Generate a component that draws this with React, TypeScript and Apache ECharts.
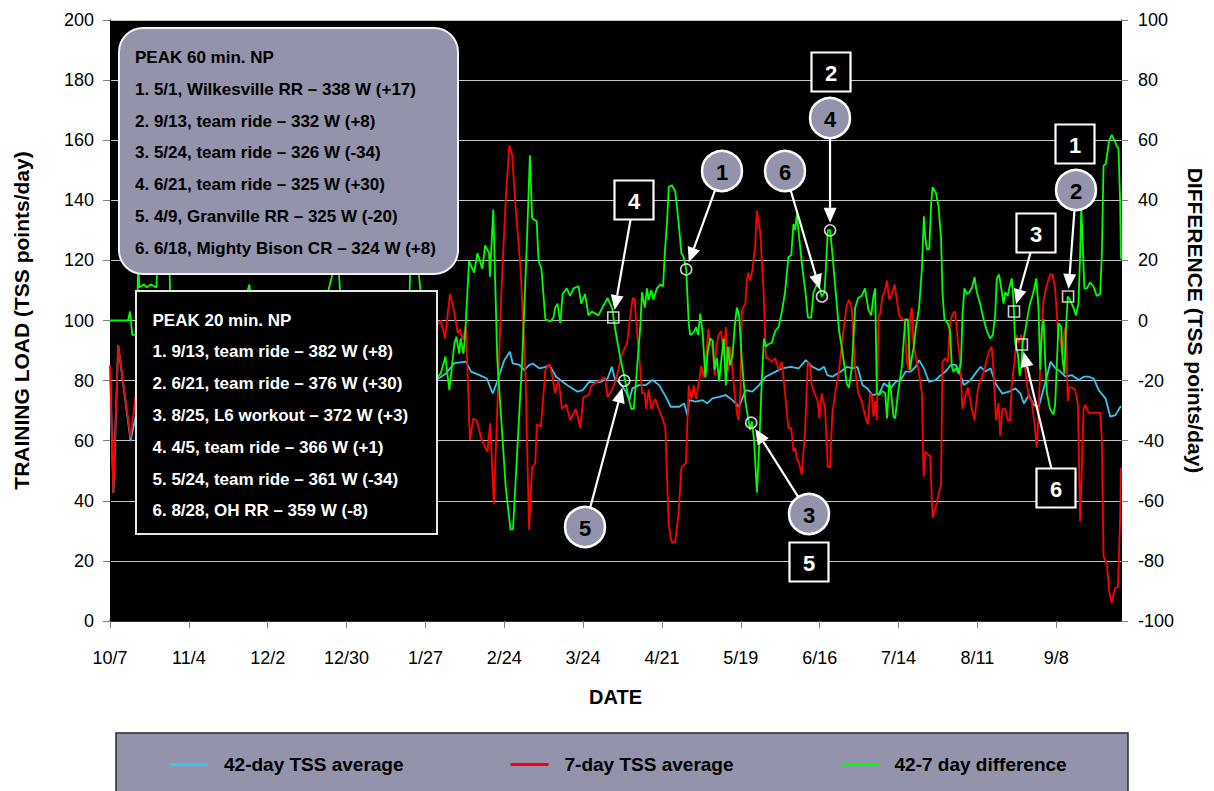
import React, { useEffect, useRef } from 'react';
import * as echarts from 'echarts';

// ---------- DATA ----------
const dateLabels = ['10/7', '11/4', '12/2', '12/30', '1/27', '2/24', '3/24', '4/21', '5/19', '6/16', '7/14', '8/11', '9/8'];
const seriesNames = ['42-day TSS average', '7-day TSS average', '42-7 day difference'];

// [day since 10/7, TSS points/day]
const ctl42: number[][] = [
  [0, 85], [1.2, 42.6], [2.9, 91.8], [7.3, 60], [9.1, 68], [15, 70], [22, 73], [30, 72], [40, 75], [50, 77], [60, 76], [70, 78], [80, 80], [90, 79], [100, 81], [108, 82],
  [115.8, 80.2], [119.3, 82.4], [122.3, 85.8], [126.4, 86.3], [128.2, 83], [131.2, 81.8], [133.8, 80.7], [135.9, 75.7], [137.7, 80.2], [140, 86.8], [142, 89.6], [143, 85.7], [145.4, 85.2], [147.1, 83.5], [148.9, 85.2], [150.1, 85.7], [152.4, 84.1], [154.8, 84.6], [156, 85.2], [158.4, 81.3], [160.7, 79.6], [163.1, 78], [166, 76.3], [167.8, 76.8], [170.2, 79.6], [172.5, 79.3], [174.3, 79.6], [176.7, 80.7], [178.2, 84.6], [179.4, 80.2], [180.8, 79.6], [183.2, 76.3], [184.4, 73.5], [185.5, 77.4], [187.9, 78.5], [190.3, 78.5], [192.6, 80.2], [195, 78.5], [197.4, 74.6], [199.1, 71.3], [202.1, 71.3], [203.9, 72.4], [205, 68.5], [205.6, 73.5], [208, 73], [210.4, 73.5], [212.1, 72.4], [213.9, 74.1], [216.3, 74.6], [218.6, 75.2], [221, 73.5], [223.4, 71.3], [225.7, 76.8], [228.1, 76.3], [230.5, 78.5], [232.8, 81.3], [236.4, 83], [238.7, 84.1], [241.7, 84.6], [244.6, 84.1],
  [247.1, 86.8], [249.4, 84.6], [251.8, 83.5], [253.6, 84.6], [254.7, 81.8], [256.5, 81.3], [258.3, 82.4], [259.5, 83], [261.8, 84.6], [263.6, 84.1], [265.4, 84.6], [267.2, 78.5], [268.9, 77.4], [270.7, 75.2], [273.1, 75.7], [274.8, 79.1], [277.2, 77.4], [279, 79.6], [280.8, 80.2], [282.5, 83], [284.3, 83], [286.1, 84.6], [287.3, 86.8], [289, 84.1], [290.8, 79.6], [293.2, 80.2], [295, 81.8], [296.7, 83], [298.5, 85.2], [300.3, 85.2], [301.4, 83.5], [303.2, 78.5], [305.6, 80.2], [307.3, 82.4], [309.1, 84.6], [310.9, 83], [312.7, 84.1], [314.4, 79.1], [316.8, 75.7], [319.2, 76.3], [321.5, 77.4], [323.3, 75.7], [324.5, 72.4], [326.3, 75.2], [328, 71.9], [329.8, 71.3], [332.2, 79.6], [334, 86.3], [335.7, 84.1], [337.5, 83], [339.3, 81.3], [341.6, 81.8], [344, 80.2], [345.8, 81.3], [347.5, 81.3], [349.3, 80.7], [351.1, 76.8], [353.5, 74.1], [355.2, 68], [357, 68.5], [358.8, 71.3], [359, 71.5],
];

const atl7: number[][] = [
  [0, 85], [1.2, 42.6], [2.9, 91.8], [7.3, 61], [9.1, 75], [10, 46], [10.4, 57], [12, 57], [14.5, 58], [16.5, 59], [17, 45], [19, 44], [21, 50], [21.5, 69], [30, 72], [40, 79], [47, 71], [49.5, 65], [50.5, 74], [60, 78], [70, 74], [77, 72], [80.8, 58], [82, 74], [92, 79], [100, 77], [106.3, 76], [106.8, 57], [109, 61], [110.5, 74], [113, 85],
  [116, 98.5], [117.5, 100], [119, 94], [120.7, 108.8], [122, 104], [123.5, 95.7], [124.3, 97], [125.2, 93.5], [126.4, 98], [127.8, 60.3], [129, 67.4], [130.2, 66.8], [132, 60.2], [134, 56.3], [135, 65.8], [136.3, 39], [137.5, 70], [139, 110], [140.5, 140], [141.8, 158.3], [142.8, 155], [144, 138], [145.8, 117], [147.5, 83.6], [148.8, 30.4], [149.9, 51.2], [151, 52.4], [151.6, 65.5], [153, 64.6], [154.6, 83.6], [156, 85.5], [157, 82], [158, 75.8], [159.3, 80.2], [160.5, 70.6], [162, 72], [163.4, 66.8], [165.4, 70.6], [167, 64.2], [168.1, 74.5], [170, 75.2], [171, 78.4], [173.4, 79.7], [175.8, 81], [176.7, 74.5],
  [178.3, 77], [179.5, 79.7], [181.8, 88.7], [183.6, 92.6], [184.8, 101.7], [185.6, 107.5], [186.3, 106.9], [187.1, 96.5], [188.3, 83.6], [188.9, 75.8], [189.9, 75.8], [190.4, 70.6], [191.3, 77.1], [192.2, 70.6], [193.6, 73.9], [194.8, 70.6], [196, 68], [197.2, 64.2], [198.4, 31.8], [199.5, 26], [200.7, 26.5], [201.9, 35.7], [202.9, 51.2], [204.5, 52.5], [205.5, 78.4], [206.4, 73.9], [207.3, 78.4], [208.1, 73.9], [209, 79], [210, 84.9], [210.8, 81], [211.7, 88.7], [212.5, 97.2], [213.1, 92.6], [214, 90.7], [214.7, 81.6], [215.3, 91.3], [216.1, 95.2], [217, 96.5], [217.9, 88.7], [218.7, 97.8], [219.4, 82.9], [220.2, 91.3], [220.8, 86.2], [221.7, 76.5], [222.6, 69.3], [223.2, 66.8], [223.8, 75.8], [224.4, 103.6], [225.6, 105.6], [226.1, 113.3], [226.7, 115.9], [227.3, 113.3], [228.2, 117.2], [229.1, 125], [229.7, 136.6], [230.9, 129.5], [232.1, 109.4], [232.9, 87.5], [233.6, 87.5], [235, 86.2], [236.2, 87.5], [237.4, 83.6], [238.6, 86.2], [239.7, 75.8], [240.9, 64.2], [241.9, 64.2], [242.7, 56.4], [243.3, 57.7], [243.9, 53.8], [244.7, 52.5], [245.6, 48.7], [246.8, 62.9], [247.8, 86.2], [248.6, 84.9], [249.2, 78.4], [250.4, 75.2], [251.3, 73.2], [251.9, 67.4], [252.7, 75.8], [253.9, 70.6], [254.9, 51.2], [255.7, 51.2], [256.5, 69.3], [257.7, 77.1], [258.9, 83.6], [260.4, 96.5], [261.6, 104.9], [262.4, 106.9], [263.4, 104.3], [264.6, 83.6], [265.7, 75.8], [266.9, 73.2], [268.2, 68], [269.1, 65.5], [269.9, 75.8], [270.5, 75.2], [271.1, 68], [271.7, 73.2], [272.3, 66.8], [272.9, 101.7], [273.5, 102.3], [274.3, 108.2], [275, 109.4], [275.9, 113.3], [276.7, 106.9], [277.6, 108.8], [278.6, 112], [279.4, 106.9], [280.2, 101.7], [281.2, 100.4], [282.1, 100.4], [283, 86.2], [283.6, 83.6], [284.1, 100.4], [284.7, 104.3], [285.3, 92.6], [286.2, 87.5], [287.1, 83.6], [288.3, 75.8], [288.9, 48], [289.5, 56.4], [290.7, 55.1], [291.2, 55.1], [292.1, 34.4], [293.3, 38.3], [294.2, 42.2], [295.1, 45.4], [295.6, 86.2], [296.6, 87.5], [297.5, 86.2], [298.3, 99.1], [299.2, 102.3], [300.1, 103], [301.1, 92.6], [301.9, 86.2], [302.7, 70.6], [303.7, 74.5], [304.6, 77.7], [305.4, 73.9], [306, 70.6], [307, 66.8], [307.8, 74.5], [308.6, 79], [309.6, 81], [310.5, 83.6], [311.4, 87.5], [312.3, 90], [313.1, 91.3], [313.7, 83.6], [314.6, 66.8], [315.5, 72.6], [316.1, 61.6], [316.9, 70.6], [317.9, 70.6], [318.8, 66.8], [319.6, 66.8], [320.2, 78.4], [321.2, 86.2], [322, 95.2], [322.6, 92.6], [323.6, 95.2], [324.4, 86.2], [325, 83.6], [326.2, 74.5], [327.3, 73.2], [328.3, 65.5], [329.1, 57.7], [329.7, 68], [330.7, 94], [331.5, 106.9], [332.7, 112], [333.8, 115.3], [334.7, 115.3], [335.6, 110.7], [336.6, 96.5], [337.4, 93.9], [338.2, 88.7], [338.9, 96.5], [339.4, 97.8], [340.1, 73.2], [340.6, 77.7], [341.5, 77.7], [342.7, 77.1], [343.7, 71.9], [344.5, 33.1], [345.1, 51.2], [345.7, 70.6], [346.3, 71.9], [347.5, 69.3], [351.6, 69.3], [352.2, 60.3], [352.8, 21.5], [354, 18.9], [354.8, 9.8], [355.7, 6], [356.9, 11.1], [357.9, 11.1], [358.7, 34.4], [359, 51],
];

// [day since 10/7, difference in TSS points/day] (right axis)
const diff42to7: number[][] = [
  [0, 0], [6.4, 0], [7.1, 3], [7.9, -4.8], [9.2, -4.8], [9.6, -7], [10, 24], [10.4, 11], [12, 12], [13, 11], [14.5, 12], [16.5, 11], [17, 26], [19, 28], [21, 22], [21.5, 4], [30, 0], [40, -4], [47, 4], [49.5, 12], [50.5, 3], [60, -2], [70, 4], [77, 8], [80.8, 22], [82, 6], [92, 0], [100, 4], [106.3, 6], [106.8, 25], [109, 21], [110.5, 8], [113, 2],
  [115.8, -19.3], [117.5, -17.5], [119.1, -12], [120.5, -23.2], [122.3, -7.6], [123, -5.4], [124, -11], [124.5, -6], [125.5, -11], [126.1, -4.8], [127.5, 19.8], [129.3, 15.9], [130.5, 22.4], [132.2, 17.2], [133.2, 25], [134.6, 22.4], [134.9, 14.6], [136.1, 36.9], [137.5, -12.5], [140.5, -55.2], [142.2, -69.5], [143.1, -69.5], [146.4, -12.5], [148.1, 27.6], [149.1, 55], [149.9, 34], [151.5, 33], [152.2, 19.8], [153.2, 17.2], [154.6, 0.4], [156.4, -0.3], [157.5, 1], [158.1, 4.3], [158.9, 5.6], [159.9, -0.9], [160.7, 8.8], [162.2, 10.7], [163.4, 8.2], [164.6, 10.7], [166.4, 11.4], [167.3, 5.6], [168.7, 8.8], [169.9, 1.7], [171.1, 3], [173.4, 1.7], [175.2, 4.9], [176.7, 7.5], [178.3, 4], [179.5, -3.5], [181.2, -12.5], [183, -20.3], [184.2, -26.1], [185.1, -29.4], [186, -29.4], [187.1, -16.4], [188.3, -2.2], [188.9, 9.4], [189.9, 4.3], [190.7, 10.7], [191.3, 6.9], [192.2, 10.1], [193, 6.9], [194.2, 10.7], [195.4, 12], [196.4, 11.4], [197, 22.4], [197.8, 32.7], [198.4, 44.4], [199.5, 45], [200.7, 43.1], [201.9, 32.7], [202.9, 22.4], [203.7, 21.1], [204.6, 17], [205.5, -0.9], [206, -4.8], [207.2, -4.1], [208.1, -2.2], [208.8, -4.8], [209.6, 2.3], [210.5, -4.8], [211.4, -19], [212.3, -10], [213.1, -6], [214, -6.7], [214.7, -16.4], [215.5, -12.5], [216.3, -20.3], [217, -13.8], [217.9, -6], [218.7, -21.6], [219.4, -8.7], [220.2, -14.9], [221.1, -11.3], [221.8, -2.2], [222.6, 4.3], [223.4, 1.7], [224.4, -13.8], [225.6, -26.8], [226.5, -32], [227.3, -36.5], [227.9, -33.6], [228.7, -39.7], [229.7, -57.2], [230.5, -42.3], [231.5, -19], [232.2, -6], [232.9, -8.7], [233.6, -8], [235, -7.4], [236.2, -3.5], [237.4, -2.2], [238.6, 3], [239.7, 9.4], [240.9, 21.1], [241.9, 21.7], [242.7, 32.1], [243.3, 30.1], [243.9, 35.3], [244.7, 27.6], [245.9, 17.2], [247.1, 8.2], [247.8, 1], [249, 1], [249.8, 9.4], [251, 12], [252.1, 10.7], [252.7, 8], [253.7, 9.4], [254.2, 17.2], [254.9, 30.1], [255.7, 30.1], [256.5, 22.4], [257.7, 9.4], [258.9, -3.5], [259.8, -8.7], [260.8, -15.1], [261.6, -21], [262.4, -22.3], [263.4, -15.8], [264.6, 4.3], [265.7, 7.5], [266.9, 8.2], [268.1, 10.7], [269.3, 3.6], [270.3, 1.7], [271.1, 8.2], [271.7, 10.7], [272.3, -24.2], [273.1, -24.8], [274.3, -23.5], [275.3, -24.2], [275.9, -32.6], [276.7, -20.3], [277.4, -24.2], [278.2, -32], [278.8, -32.6], [279.8, -24.2], [281.2, -15.1], [282.4, 0.4], [283.3, 0.4], [284.1, -16.4], [284.7, -12.5], [285.3, -9.3], [286.2, -2.2], [287.3, 4.3], [288.3, 17.2], [289, 34.7], [289.5, 27.6], [290.1, 23.7], [290.9, 23.7], [291.6, 39.2], [292.1, 44.4], [293.3, 42.4], [294.2, 37.9], [295.1, 27.6], [295.6, 9.4], [296.3, 0.4], [297.5, -0.9], [298.3, -3.5], [298.9, -15.1], [299.5, -17.1], [300.4, -15.8], [301.3, -17.7], [302.2, -13.8], [302.7, 1.7], [303.4, 10.7], [304.3, 8.8], [305.1, 9.4], [306, 10.7], [307, 14.4], [307.8, 9.4], [309, 5.6], [310.2, 0.4], [311.4, -3.5], [312.5, -6], [313.5, -4.8], [314.3, 1.7], [314.9, 14], [315.7, 15.3], [316.7, 9.4], [317.3, 5.6], [317.9, 9.4], [318.8, 8.2], [319.3, 10.7], [320.2, 14], [320.8, 6.9], [321.4, -7.4], [322.4, -11.3], [323, -18.4], [323.6, -15.1], [324.1, -7.4], [325, -3.5], [325.9, 1.7], [326.7, 5.6], [327.9, 9.4], [328.9, 14], [329.7, 4.3], [330.3, -16.4], [330.9, -3.5], [331.5, 0.4], [332.1, -13.8], [332.7, -24.2], [333.8, -29.4], [335, -31.3], [335.6, -28.1], [336.2, -15.1], [336.8, -0.9], [337.8, -2.2], [338.2, -12.5], [338.9, -17.7], [339.4, -3.5], [340.1, 8], [340.9, 6.9], [342.1, 4.3], [343, 1.7], [343.9, 5.6], [344.5, 22.4], [344.9, 37.9], [345.3, 27.6], [346, 10.7], [346.9, 10.7], [348, 12.7], [349.2, 11.4], [350.4, 8.2], [351.6, 8.8], [352.2, 22.4], [352.8, 51.5], [353.6, 52.1], [354.8, 59.9], [355.7, 61.8], [356.7, 59.9], [357.5, 58], [358.1, 57.3], [358.7, 39.2], [359, 20.4],
];

// peak-power rides marked on the difference line
const markerDays = [178.7, 182.6, 204.6, 227.7, 252.8, 255.7, 321, 323.8, 340.2];
const markerDiffs = [1, -20, 17, -34, 8, 30, 3, -8, 8];
const markerKinds = ['rect', 'circle', 'circle', 'circle', 'circle', 'circle', 'rect', 'rect', 'rect'];

const peak60Title = 'PEAK 60 min. NP';
const peak60Lines = [
  '1. 5/1, Wilkesville RR – 338 W (+17)',
  '2. 9/13, team ride – 332 W (+8)',
  '3. 5/24, team ride – 326 W (-34)',
  '4. 6/21, team ride – 325 W (+30)',
  '5. 4/9, Granville RR – 325 W (-20)',
  '6. 6/18, Mighty Bison CR – 324 W (+8)',
];
const peak20Title = 'PEAK 20 min. NP';
const peak20Lines = [
  '1. 9/13, team ride – 382 W (+8)',
  '2. 6/21, team ride – 376 W (+30)',
  '3. 8/25, L6 workout – 372 W (+3)',
  '4. 4/5, team ride – 366 W (+1)',
  '5. 5/24, team ride – 361 W (-34)',
  '6. 8/28, OH RR – 359 W (-8)',
];

// ---------- LAYOUT (call-out label positions, px) ----------
const callouts = [
  { marker: 0, kind: 'box', text: '4', x: 634, y: 200, arrow: true },
  { marker: 1, kind: 'circle', text: '5', x: 585, y: 527, arrow: true },
  { marker: 2, kind: 'circle', text: '1', x: 722, y: 171, arrow: true },
  { marker: 3, kind: 'circle', text: '3', x: 809, y: 514, arrow: true },
  { marker: 3, kind: 'box', text: '5', x: 809, y: 562, arrow: false },
  { marker: 4, kind: 'circle', text: '6', x: 785, y: 171, arrow: true },
  { marker: 5, kind: 'circle', text: '4', x: 830, y: 118, arrow: true },
  { marker: 5, kind: 'box', text: '2', x: 831, y: 72, arrow: false },
  { marker: 6, kind: 'box', text: '3', x: 1036, y: 233, arrow: true },
  { marker: 7, kind: 'box', text: '6', x: 1056, y: 488, arrow: true },
  { marker: 8, kind: 'circle', text: '2', x: 1076, y: 190, arrow: true },
  { marker: 8, kind: 'box', text: '1', x: 1075, y: 144, arrow: false },
];

const FONT = '"Liberation Sans", Arial, sans-serif';
const COLORS = ['#38c6ee', '#ff0000', '#00ff00'];
const BOX_FILL = '#9393ab';

function arrowEls(sx: number, sy: number, tx: number, ty: number) {
  const dx = tx - sx;
  const dy = ty - sy;
  const len = Math.hypot(dx, dy) || 1;
  const ux = dx / len;
  const uy = dy / len;
  const headLen = 15;
  const headW = 6.5;
  const bx = tx - ux * headLen;
  const by = ty - uy * headLen;
  return [
    { type: 'line', z: 30, shape: { x1: sx, y1: sy, x2: bx, y2: by }, style: { stroke: '#ffffff', lineWidth: 2.2 } },
    {
      type: 'polygon', z: 30,
      shape: { points: [[tx, ty], [bx - uy * headW, by + ux * headW], [bx + uy * headW, by - ux * headW]] },
      style: { fill: '#ffffff' },
    },
  ];
}

export default function App() {
  const ref = useRef<HTMLDivElement>(null);

  useEffect(() => {
    if (!ref.current) return;
    const chart = echarts.init(ref.current, null, { renderer: 'svg' });

    const axisLabelStyle = { fontSize: 18, color: '#000', fontFamily: FONT };
    const option: any = {
      animation: false,
      textStyle: { fontFamily: FONT },
      grid: { left: 110, right: 91, top: 20, bottom: 170, show: true, backgroundColor: '#000000', borderWidth: 0 },
      legend: {
        data: seriesNames,
        left: 165,
        top: 750,
        icon: 'rect',
        itemWidth: 38,
        itemHeight: 3,
        itemGap: 107,
        selectedMode: false,
        textStyle: { fontSize: 19, fontWeight: 'bold', color: '#000', fontFamily: FONT, padding: [0, 0, 0, 11] },
      },
      xAxis: {
        type: 'value', min: 0, max: 359, interval: 28,
        axisLine: { show: true, lineStyle: { color: '#000', width: 1.5 } },
        axisTick: { show: true, length: 7, lineStyle: { color: '#808080' } },
        axisLabel: {
          ...axisLabelStyle, margin: 28, showMaxLabel: false,
          formatter: (v: number) => (v % 28 === 0 ? dateLabels[v / 28] ?? '' : ''),
        },
        splitLine: { show: false },
        name: 'DATE', nameLocation: 'middle', nameGap: 66,
        nameTextStyle: { fontSize: 20, fontWeight: 'bold', color: '#000', fontFamily: FONT },
      },
      yAxis: [
        {
          type: 'value', min: 0, max: 200, interval: 20, position: 'left',
          axisLine: { show: true, lineStyle: { color: '#000' } },
          axisTick: { show: true, length: 7, lineStyle: { color: '#808080' } },
          axisLabel: { ...axisLabelStyle, margin: 16 },
          splitLine: { show: true, lineStyle: { color: '#c4c4c4', width: 1 } },
          name: 'TRAINING LOAD (TSS points/day)', nameLocation: 'middle', nameGap: 78, nameRotate: 90,
          nameTextStyle: { fontSize: 21, fontWeight: 'bold', color: '#000', fontFamily: FONT },
        },
        {
          type: 'value', min: -100, max: 100, interval: 20, position: 'right',
          axisLine: { show: true, lineStyle: { color: '#000' } },
          axisTick: { show: true, length: 7, lineStyle: { color: '#808080' } },
          axisLabel: { ...axisLabelStyle, margin: 17 },
          splitLine: { show: false },
          name: 'DIFFERENCE (TSS points/day)', nameLocation: 'middle', nameGap: 64, nameRotate: -90,
          nameTextStyle: { fontSize: 21, fontWeight: 'bold', color: '#000', fontFamily: FONT },
        },
      ],
      series: [
        {
          name: seriesNames[0], type: 'line', yAxisIndex: 0, data: ctl42, showSymbol: false, silent: true,
          color: COLORS[0], lineStyle: { color: COLORS[0], width: 1.8 }, z: 2,
        },
        {
          name: seriesNames[1], type: 'line', yAxisIndex: 0, data: atl7, showSymbol: false, silent: true,
          color: COLORS[1], lineStyle: { color: COLORS[1], width: 1.8 }, z: 3,
        },
        {
          name: seriesNames[2], type: 'line', yAxisIndex: 1, data: diff42to7, showSymbol: false, silent: true,
          color: COLORS[2], lineStyle: { color: COLORS[2], width: 1.8 }, z: 4,
        },
        {
          name: 'peaks', type: 'scatter', yAxisIndex: 1, silent: true, z: 6,
          data: markerDays.map((d, i) => ({ value: [d, markerDiffs[i]], symbol: markerKinds[i], symbolSize: 11 })),
          itemStyle: { color: 'rgba(0,0,0,0)', borderColor: '#ffffff', borderWidth: 1.6 },
        },
      ],
    };
    chart.setOption(option);

    const g: any[] = [];
    // legend background
    g.push({ type: 'rect', z: 0, shape: { x: 116, y: 733, width: 1012, height: 70 }, style: { fill: BOX_FILL, stroke: '#2a2a2a', lineWidth: 1.5 } });

    // PEAK 60 box
    g.push({ type: 'rect', z: 20, shape: { x: 119, y: 28, width: 339, height: 246, r: 24 }, style: { fill: BOX_FILL, stroke: '#f2f2f2', lineWidth: 2 } });
    [peak60Title, ...peak60Lines].forEach((t, i) => {
      g.push({ type: 'text', z: 21, x: 135, y: 57.5 + i * 31.8, style: { text: t, fill: '#000', fontSize: 17, fontWeight: 'bold', fontFamily: FONT, verticalAlign: 'middle', align: 'left' } });
    });
    // PEAK 20 box
    g.push({ type: 'rect', z: 20, shape: { x: 136, y: 291, width: 301, height: 243 }, style: { fill: '#000', stroke: '#e6e6e6', lineWidth: 2 } });
    [peak20Title, ...peak20Lines].forEach((t, i) => {
      g.push({ type: 'text', z: 21, x: 152.5, y: 320 + i * 31.8, style: { text: t, fill: '#fff', fontSize: 17, fontWeight: 'bold', fontFamily: FONT, verticalAlign: 'middle', align: 'left' } });
    });

    // call-outs with arrows to the marked rides
    callouts.forEach((c) => {
      const p = chart.convertToPixel({ seriesIndex: 3 }, [markerDays[c.marker], markerDiffs[c.marker]]) as number[];
      if (c.arrow && p) {
        const dx = p[0] - c.x;
        const dy = p[1] - c.y;
        const len = Math.hypot(dx, dy) || 1;
        const ux = dx / len;
        const uy = dy / len;
        g.push(...arrowEls(c.x + ux * 20, c.y + uy * 20, p[0] - ux * 7.5, p[1] - uy * 7.5));
      }
      if (c.kind === 'circle') {
        g.push({ type: 'circle', z: 31, shape: { cx: c.x, cy: c.y, r: 20 }, style: { fill: BOX_FILL, stroke: '#ffffff', lineWidth: 2.5 } });
        g.push({ type: 'text', z: 32, x: c.x, y: c.y + 1, style: { text: c.text, fill: '#000', fontSize: 22, fontWeight: 'bold', fontFamily: FONT, align: 'center', verticalAlign: 'middle' } });
      } else {
        g.push({ type: 'rect', z: 31, shape: { x: c.x - 19.5, y: c.y - 19.5, width: 39, height: 39 }, style: { fill: '#000', stroke: '#ffffff', lineWidth: 2.2 } });
        g.push({ type: 'text', z: 32, x: c.x, y: c.y + 1, style: { text: c.text, fill: '#fff', fontSize: 22, fontWeight: 'bold', fontFamily: FONT, align: 'center', verticalAlign: 'middle' } });
      }
    });

    chart.setOption({ graphic: g });

    return () => {
      chart.dispose();
    };
  }, []);

  return <div ref={ref} style={{ position: 'absolute', left: 0, top: 0, width: 1214, height: 791, background: '#fff' }} />;
}
